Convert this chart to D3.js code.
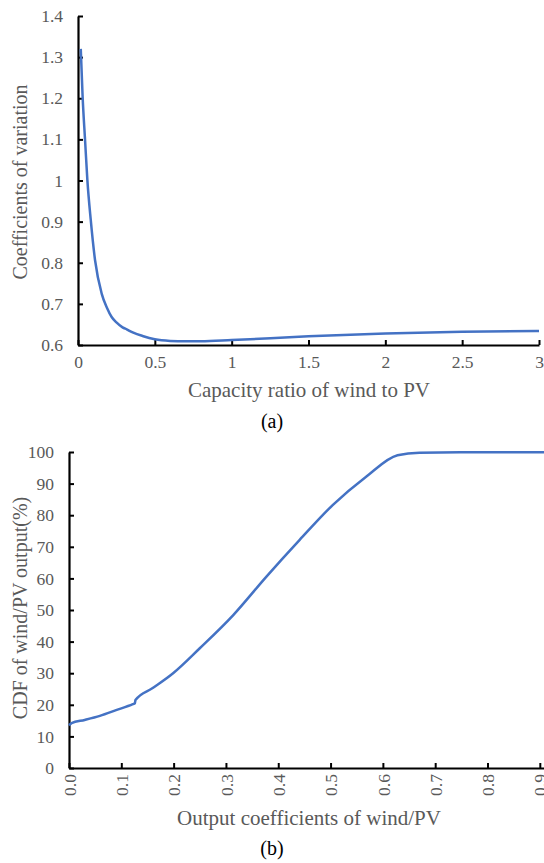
<!DOCTYPE html>
<html>
<head>
<meta charset="utf-8">
<script src="https://cdn.jsdelivr.net/npm/d3@7/dist/d3.min.js"></script>
<style>
  body { margin: 0; background: #fff; }
</style>
</head>
<body>
<div id="chart"></div>
<script>
// (a) coefficient of variation vs capacity ratio
var ratioX = [0.018, 0.03, 0.046, 0.061, 0.083, 0.111, 0.154, 0.189, 0.219, 0.25, 0.29, 0.317, 0.36, 0.42, 0.5, 0.6, 0.7, 0.8, 1, 1.5, 2, 2.5, 3];
var cvY    = [1.32, 1.204, 1.098, 1.001, 0.904, 0.806, 0.725, 0.690, 0.668, 0.655, 0.643, 0.638, 0.630, 0.622, 0.614, 0.610, 0.609, 0.609, 0.612, 0.621, 0.628, 0.632, 0.634];
var ticksAX = [0, 0.5, 1, 1.5, 2, 2.5, 3];
var ticksAY = [0.6, 0.7, 0.8, 0.9, 1.0, 1.1, 1.2, 1.3, 1.4];

// (b) CDF of output coefficients
var outX = [0, 0.005, 0.03, 0.059, 0.09, 0.122, 0.126, 0.127, 0.16, 0.199, 0.25, 0.314, 0.377, 0.441, 0.504, 0.568, 0.628, 0.67, 0.75, 0.908];
var cdfY = [13.5, 14.2, 15.2, 16.5, 18.3, 20.2, 20.5, 21.5, 25.3, 30.0, 37.9, 48.4, 60.5, 72.2, 83.2, 92.2, 99.0, 99.8, 99.9, 99.9];
var ticksBX = [0, 0.1, 0.2, 0.3, 0.4, 0.5, 0.6, 0.7, 0.8, 0.9];
var ticksBY = [0, 10, 20, 30, 40, 50, 60, 70, 80, 90, 100];

var W = 544, H = 863;
var lineColor = "#4472C4", labelColor = "#595959";
var serif = "'Liberation Serif', 'Times New Roman', serif";

var svg = d3.select("#chart").append("svg")
  .attr("width", W)
  .attr("height", H)
  .style("font-family", serif);

function styleAxis(g) {
  g.attr("font-family", null);
  g.select(".domain").attr("stroke", "#000").attr("stroke-width", 2.2);
  g.selectAll(".tick line").attr("stroke", "#000").attr("stroke-width", 2);
  g.selectAll(".tick text")
    .attr("fill", labelColor)
    .style("font-family", serif)
    .style("font-size", "17.5px");
}

function label(txt, size, color) {
  return svg.append("text")
    .attr("text-anchor", "middle")
    .attr("fill", color)
    .style("font-family", serif)
    .style("font-size", size + "px")
    .text(txt);
}

// ---- panel (a) ----
var xa = d3.scaleLinear().domain([0, 3]).range([78, 539]);
var ya = d3.scaleLinear().domain([0.6, 1.4]).range([345, 16]);

svg.append("g")
  .attr("transform", "translate(0," + ya(0.6) + ")")
  .call(d3.axisBottom(xa).tickValues(ticksAX).tickSizeInner(-5).tickSizeOuter(0).tickPadding(11)
    .tickFormat(function (d) { return String(d); }))
  .call(styleAxis);

svg.append("g")
  .attr("transform", "translate(" + xa(0) + ",0)")
  .call(d3.axisLeft(ya).tickValues(ticksAY).tickSizeInner(-5).tickSizeOuter(0).tickPadding(15)
    .tickFormat(function (d) { return String(+d.toFixed(1)); }))
  .call(styleAxis);

var dataA = ratioX.map(function (x, i) { return [x, cvY[i]]; });
svg.append("path")
  .datum(dataA)
  .attr("fill", "none")
  .attr("stroke", lineColor)
  .attr("stroke-width", 2.5)
  .attr("d", d3.line()
    .x(function (d) { return xa(d[0]); })
    .y(function (d) { return ya(d[1]); })
    .curve(d3.curveMonotoneX));

label("Capacity ratio of wind to PV", 21, labelColor).attr("x", 309).attr("y", 397);
label("Coefficients of variation", 20, labelColor).attr("transform", "translate(27,182) rotate(-90)");
label("(a)", 20, "#000").attr("x", 272).attr("y", 428);

// ---- panel (b) ----
var xb = d3.scaleLinear().domain([0, 0.908]).range([69, 544]);
var yb = d3.scaleLinear().domain([0, 100]).range([768, 452]);

var gbx = svg.append("g")
  .attr("transform", "translate(0," + yb(0) + ")")
  .call(d3.axisBottom(xb).tickValues(ticksBX).tickSizeInner(-5).tickSizeOuter(0)
    .tickFormat(d3.format(".1f")))
  .call(styleAxis);

gbx.selectAll(".tick text")
  .attr("transform", "rotate(-90)")
  .attr("text-anchor", "end")
  .attr("x", -6)
  .attr("y", 0)
  .attr("dy", "0.35em");

svg.append("g")
  .attr("transform", "translate(" + xb(0) + ",0)")
  .call(d3.axisLeft(yb).tickValues(ticksBY).tickSizeInner(-5).tickSizeOuter(0).tickPadding(15))
  .call(styleAxis);

var dataB = outX.map(function (x, i) { return [x, cdfY[i]]; });
svg.append("path")
  .datum(dataB)
  .attr("fill", "none")
  .attr("stroke", lineColor)
  .attr("stroke-width", 2.5)
  .attr("d", d3.line()
    .x(function (d) { return xb(d[0]); })
    .y(function (d) { return yb(d[1]); })
    .curve(d3.curveMonotoneX));

label("Output coefficients of wind/PV", 21, labelColor).attr("x", 309).attr("y", 825);
label("CDF of wind/PV output(%)", 20, labelColor).attr("transform", "translate(27,608) rotate(-90)");
label("(b)", 20, "#000").attr("x", 272).attr("y", 855);
</script>
</body>
</html>
